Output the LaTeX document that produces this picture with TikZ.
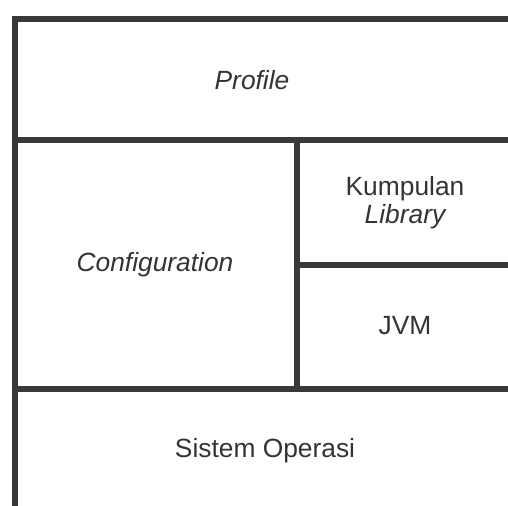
\documentclass[tikz,border=0pt]{standalone}
\usepackage{fontspec}
\setmainfont{Liberation Sans}
\usepackage{tikz}

\begin{document}
\begin{tikzpicture}[x=0.02cm, y=-0.02cm,
   wall/.style={draw=black!78, line width=3.6pt, line cap=rect},
   lbl/.style={text=black!80, font=\fontsize{15}{18}\selectfont, inner sep=1pt, align=center}]
  \useasboundingbox (0,0) rectangle (508,506);
  % frame and partitions
  \draw[wall] (15,506) -- (15,19) -- (508,19);
  \draw[wall] (15,140) -- (508,140);
  \draw[wall] (15,389) -- (508,389);
  \draw[wall] (297,140) -- (297,389);
  \draw[wall] (297,265) -- (508,265);
  % labels
  \node[lbl] (profile) at (252,80)  {\itshape Profile};
  \node[lbl] (config)  at (155,265) {\itshape Configuration};
  \node[lbl] (lib)     at (405,203) {Kumpulan\\[-2pt]\itshape Library};
  \node[lbl] (jvm)     at (405,326) {JVM};
  \node[lbl] (os)      at (265,451) {Sistem Operasi};
\end{tikzpicture}
\end{document}
